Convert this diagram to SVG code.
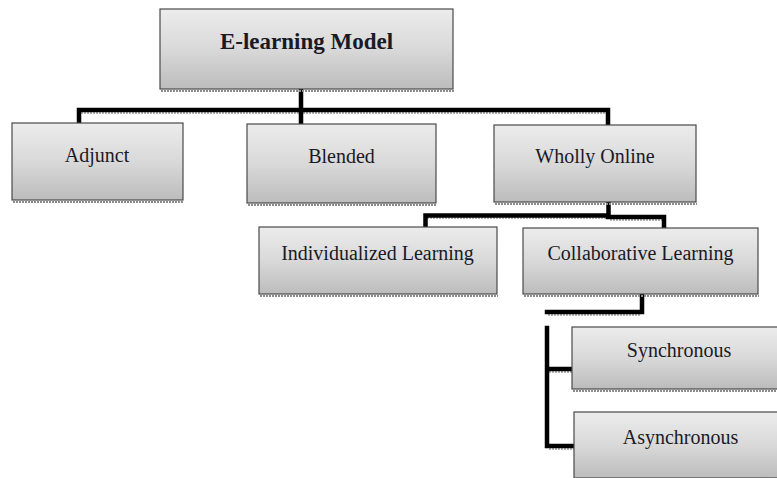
<svg xmlns="http://www.w3.org/2000/svg" width="777" height="478" viewBox="0 0 777 478">
<defs>
<linearGradient id="g" x1="0" y1="0" x2="0" y2="1">
<stop offset="0" stop-color="#ececec"/>
<stop offset="0.5" stop-color="#d9d9d9"/>
<stop offset="1" stop-color="#bcbcbc"/>
</linearGradient>
</defs>
<style>
.box{fill:url(#g);stroke:#4a4a4a;stroke-width:1.2}
.sh{stroke:#8c8c8c;stroke-width:2;stroke-dasharray:2 1;fill:none}
.t{font-family:"Liberation Serif","Times New Roman",serif;font-size:20px;fill:#1a1a26;text-anchor:middle}
.tb{font-weight:bold;font-size:23px}
.ln{fill:none;stroke:#000;stroke-width:4.5;stroke-linejoin:miter;stroke-linecap:square}
.lsh{fill:none;stroke:#9a9a9a;stroke-width:1.5;stroke-dasharray:2 1}
</style>
<rect width="777" height="478" fill="#fff"/>
<g id="connectors">
<path class="lsh" d="M81,113 H610 M427,218 H606 M610,220 H662 M548,315 H640 M549,372 H572 M549,449 H574"/>
<path class="ln" d="M301,89 V110 M79,122 V110 H608 V124 M301,110 V123"/>
<path class="ln" d="M608.5,202 V215 M425.5,227 V215.5 H608 M608,217 H664 V227"/>
<path class="ln" d="M642,294 V312 H547"/>
<path class="ln" d="M547,328 V446 H573 M547,369 H571"/>
</g>
<g id="n-elearning">
<line class="sh" x1="161" y1="91" x2="454" y2="91"/>
<rect class="box" x="160" y="9" width="293" height="80"/>
<text class="t tb" x="306.5" y="49">E-learning Model</text>
</g>
<g id="n-adjunct">
<line class="sh" x1="13" y1="202" x2="184" y2="202"/>
<rect class="box" x="12" y="123" width="171" height="77"/>
<text class="t" x="97" y="161.5">Adjunct</text>
</g>
<g id="n-blended">
<line class="sh" x1="248" y1="205" x2="437" y2="205"/>
<rect class="box" x="247" y="124" width="189" height="79"/>
<text class="t" x="341.5" y="162.5">Blended</text>
</g>
<g id="n-wholly">
<line class="sh" x1="495" y1="204" x2="697" y2="204"/>
<rect class="box" x="494" y="125" width="202" height="77"/>
<text class="t" x="595" y="162.5">Wholly Online</text>
</g>
<g id="n-individualized">
<line class="sh" x1="260" y1="296" x2="498" y2="296"/>
<rect class="box" x="259" y="227" width="238" height="67"/>
<text class="t" x="377.5" y="259.5">Individualized Learning</text>
</g>
<g id="n-collaborative">
<line class="sh" x1="524" y1="296" x2="759" y2="296"/>
<rect class="box" x="523" y="228" width="235" height="66"/>
<text class="t" x="640.5" y="260">Collaborative Learning</text>
</g>
<g id="n-synchronous">
<line class="sh" x1="573" y1="391" x2="777" y2="391"/>
<rect class="box" x="572" y="327" width="215" height="62"/>
<text class="t" x="679" y="357">Synchronous</text>
</g>
<g id="n-asynchronous">
<rect class="box" x="574" y="412" width="215" height="66"/>
<text class="t" x="680.5" y="444">Asynchronous</text>
</g>
</svg>
